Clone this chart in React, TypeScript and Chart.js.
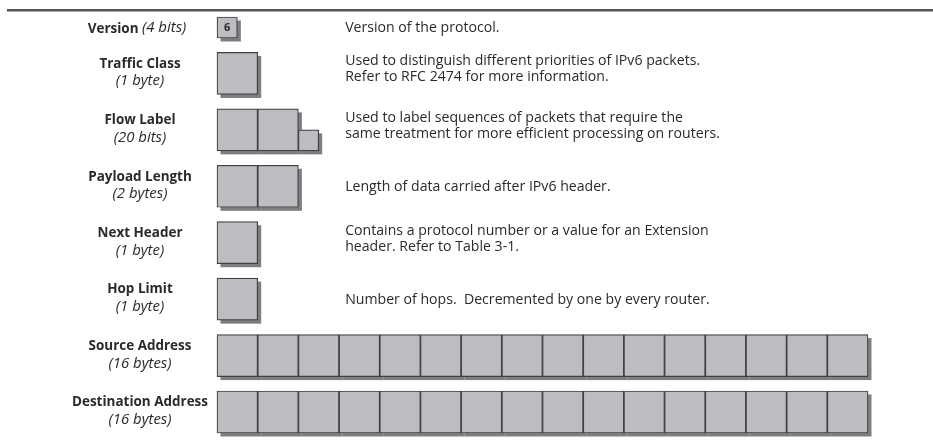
import React, { useEffect, useRef } from 'react';
import { Chart, registerables } from 'chart.js';

Chart.register(...registerables);

// ---------- data ----------
const FIELD_NAMES = [
  'Version',
  'Traffic Class',
  'Flow Label',
  'Payload Length',
  'Next Header',
  'Hop Limit',
  'Source Address',
  'Destination Address',
];
const FIELD_SIZE_LABELS = ['(4 bits)', '(1 byte)', '(20 bits)', '(2 bytes)', '(1 byte)', '(1 byte)', '(16 bytes)', '(16 bytes)'];
const FIELD_BITS = [4, 8, 20, 16, 8, 8, 128, 128];
const FIELD_VALUES = ['6', '', '', '', '', '', '', ''];
const FIELD_DESCRIPTIONS: string[][] = [
  ['Version of the protocol.'],
  ['Used to distinguish different priorities of IPv6 packets.', 'Refer to RFC 2474 for more information.'],
  ['Used to label sequences of packets that require the', 'same treatment for more efficient processing on routers.'],
  ['Length of data carried after IPv6 header.'],
  ['Contains a protocol number or a value for an Extension', 'header. Refer to Table 3-1.'],
  ['Number of hops.  Decremented by one by every router.'],
  [],
  [],
];

// ---------- layout / style ----------
const W = 933;
const H = 441;
const PAD_LEFT = 217;
const PAD_RIGHT = 65;
const PAD_TOP = 17;
const PAD_BOTTOM = 8;
const BITS_PER_BYTE = 8;
const ROW_GAP = 0.343; // in cell heights

const CELL_FILL = '#bcbdc1';
const CELL_BORDER = '#404040';
const SHADOW_COLOR = '#7e7e7e';
const TEXT_COLOR = '#2a2a2a';
const RULE_COLOR = '#555555';

const NAME_FONT = 'bold 15px "Open Sans"';
const SIZE_FONT = 'italic 14px "Open Sans"';
const DESC_FONT = '14px "Open Sans"';
const VALUE_FONT = 'bold 11px "Open Sans"';
const NAME_TARGET: [string, number] = ['Destination Address', 136];
const SIZE_TARGET: [string, number] = ['(16 bytes)', 63];
const DESC_TARGET: [string, number] = ['Used to distinguish different priorities of IPv6 packets.', 355];

// ---------- derived rows ----------
type Row = { top: number; center: number; bottom: number; h: number };
const rows: Row[] = [];
let cursor = 0;
FIELD_BITS.forEach((bits) => {
  const h = bits >= BITS_PER_BYTE ? 1 : (bits % BITS_PER_BYTE) / BITS_PER_BYTE;
  rows.push({ top: cursor, center: cursor + h / 2, bottom: cursor + h, h });
  cursor += h + ROW_GAP;
});
const TOTAL_UNITS = cursor - ROW_GAP;
const MAX_BYTES = Math.max(...FIELD_BITS) / BITS_PER_BYTE;

const fullCells: { x: [number, number]; y: number }[] = [];
const partCells: { x: [number, number]; y: number }[] = [];
FIELD_BITS.forEach((bits, i) => {
  const full = Math.floor(bits / BITS_PER_BYTE);
  const rem = (bits % BITS_PER_BYTE) / BITS_PER_BYTE;
  for (let b = 0; b < full; b++) fullCells.push({ x: [b, b + 1], y: rows[i].center });
  if (rem > 0) partCells.push({ x: [full, full + rem], y: rows[i].bottom - rem / 2 });
});

function scaleFor(ctx: CanvasRenderingContext2D, font: string, target: [string, number]) {
  ctx.save();
  ctx.font = font;
  const w = ctx.measureText(target[0]).width;
  ctx.restore();
  return w > 0 ? target[1] / w : 1;
}

function drawText(ctx: CanvasRenderingContext2D, text: string, x: number, y: number, font: string, align: CanvasTextAlign, sx: number) {
  ctx.save();
  ctx.font = font;
  ctx.fillStyle = TEXT_COLOR;
  ctx.textAlign = align;
  ctx.textBaseline = 'middle';
  ctx.translate(x, y);
  ctx.scale(sx, 1);
  ctx.fillText(text, 0, 0);
  ctx.restore();
}

const shadowPlugin = {
  id: 'cellShadow',
  beforeDatasetsDraw(chart: any) {
    const ctx = chart.ctx as CanvasRenderingContext2D;
    ctx.save();
    ctx.fillStyle = SHADOW_COLOR;
    ctx.filter = 'blur(0.7px)';
    chart.data.datasets.forEach((_: any, di: number) => {
      chart.getDatasetMeta(di).data.forEach((el: any) => {
        const { x, y, base, height } = el.getProps(['x', 'y', 'base', 'height'], true);
        const left = Math.min(x, base);
        const w = Math.abs(x - base);
        ctx.fillRect(left + 3.5, y - height / 2 + 3.5, w, height);
      });
    });
    ctx.restore();
  },
};

const textPlugin = {
  id: 'headerText',
  afterDatasetsDraw(chart: any) {
    const ctx = chart.ctx as CanvasRenderingContext2D;
    const yS = chart.scales.y;
    const xS = chart.scales.x;
    const area = chart.chartArea;

    // top rule
    ctx.save();
    ctx.fillStyle = RULE_COLOR;
    ctx.fillRect(7, area.top - 8, W - 7, 2.5);
    ctx.restore();

    const nameSx = scaleFor(ctx, NAME_FONT, NAME_TARGET);
    const sizeSx = scaleFor(ctx, SIZE_FONT, SIZE_TARGET);
    const descSx = scaleFor(ctx, DESC_FONT, DESC_TARGET);
    const labelCx = area.left - 77;
    const descX = xS.getPixelForValue(3.15);

    FIELD_NAMES.forEach((name, i) => {
      const cy = yS.getPixelForValue(rows[i].center);
      if (rows[i].h < 1) {
        ctx.save();
        ctx.font = NAME_FONT;
        const wn = ctx.measureText(name + ' ').width * nameSx;
        ctx.font = SIZE_FONT;
        const ws = ctx.measureText(FIELD_SIZE_LABELS[i]).width * sizeSx;
        ctx.restore();
        const start = labelCx - 3 - (wn + ws) / 2;
        drawText(ctx, name, start, cy + 1, NAME_FONT, 'left', nameSx);
        drawText(ctx, FIELD_SIZE_LABELS[i], start + wn, cy + 1, SIZE_FONT, 'left', sizeSx);
      } else {
        drawText(ctx, name, labelCx, cy - 10, NAME_FONT, 'center', nameSx);
        drawText(ctx, FIELD_SIZE_LABELS[i], labelCx, cy + 8, SIZE_FONT, 'center', sizeSx);
      }
      const lines = FIELD_DESCRIPTIONS[i];
      if (lines.length === 1) {
        drawText(ctx, lines[0], descX, cy + 1, DESC_FONT, 'left', descSx);
      } else {
        lines.forEach((ln, k) => drawText(ctx, ln, descX, cy - 12 + k * 16, DESC_FONT, 'left', descSx));
      }
    });

    // value inside the version cell
    const meta = chart.getDatasetMeta(1);
    meta.data.forEach((el: any, k: number) => {
      const v = FIELD_VALUES[0];
      if (k === 0 && v) {
        const { x, y, base } = el.getProps(['x', 'y', 'base'], true);
        drawText(ctx, v, (x + base) / 2, y + 0.5, VALUE_FONT, 'center', 1);
      }
    });
  },
};

export default function App() {
  const ref = useRef<HTMLCanvasElement>(null);
  useEffect(() => {
    document.body.style.margin = '0';
    const unitPx = (H - PAD_TOP - PAD_BOTTOM) / TOTAL_UNITS;
    const chart = new Chart(ref.current!, {
      type: 'bar',
      data: {
        datasets: [
          {
            label: 'bytes',
            data: fullCells as any,
            backgroundColor: CELL_FILL,
            borderColor: CELL_BORDER,
            borderWidth: 1.2,
            borderSkipped: false,
            grouped: false,
            barThickness: unitPx,
            clip: false as any,
          },
          {
            label: 'nibbles',
            data: partCells as any,
            backgroundColor: CELL_FILL,
            borderColor: CELL_BORDER,
            borderWidth: 1.2,
            borderSkipped: false,
            grouped: false,
            barThickness: unitPx * 0.5,
            clip: false as any,
          },
        ],
      },
      options: {
        indexAxis: 'y',
        animation: false,
        responsive: false,
        devicePixelRatio: 1,
        events: [],
        layout: { padding: { left: PAD_LEFT, right: PAD_RIGHT, top: PAD_TOP, bottom: PAD_BOTTOM } },
        plugins: { legend: { display: false }, tooltip: { enabled: false } },
        scales: {
          x: { type: 'linear', min: 0, max: MAX_BYTES, display: false, offset: false },
          y: { type: 'linear', min: 0, max: TOTAL_UNITS, reverse: true, display: false, offset: false },
        },
      },
      plugins: [shadowPlugin, textPlugin],
    });
    return () => chart.destroy();
  }, []);
  return (
    <div style={{ position: 'fixed', left: 0, top: 0, width: W, height: H, background: '#fff' }}>
      <canvas ref={ref} width={W} height={H} style={{ display: 'block' }} />
    </div>
  );
}
